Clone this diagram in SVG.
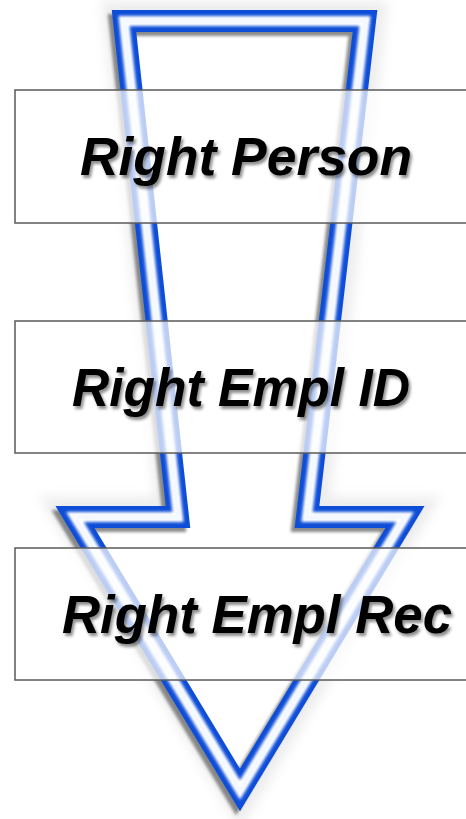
<svg xmlns="http://www.w3.org/2000/svg" width="466" height="819" viewBox="0 0 466 819">
  <style>
    .box { fill: #ffffff; fill-opacity: 0.72; stroke: #5a5a5a; stroke-width: 1.5; }
    .lbl { font-family: "Liberation Sans", Arial, sans-serif; font-weight: bold; font-style: italic; font-size: 54px; fill: #000000; filter: url(#tshadow); }
    .band { fill: none; stroke-linejoin: miter; stroke-miterlimit: 10; }
  </style>
  <defs>
    <path id="arrowPath" d="M124,21 L365,21 L307,517 L405,517 L240,790 L75,517 L178,517 Z"/>
    <filter id="tshadow" x="-10%" y="-30%" width="120%" height="160%">
      <feGaussianBlur in="SourceAlpha" stdDeviation="1.6"/>
      <feOffset dx="2" dy="3" result="b"/>
      <feFlood flood-color="#000" flood-opacity="0.45"/>
      <feComposite in2="b" operator="in"/>
      <feMerge><feMergeNode/><feMergeNode in="SourceGraphic"/></feMerge>
    </filter>
    <filter id="blur1" x="-10%" y="-10%" width="120%" height="120%"><feGaussianBlur stdDeviation="0.7"/></filter>
    <filter id="blur2" x="-10%" y="-10%" width="120%" height="120%"><feGaussianBlur stdDeviation="1.8"/></filter>
    <filter id="blur6" x="-20%" y="-20%" width="140%" height="140%"><feGaussianBlur stdDeviation="6"/></filter>
  </defs>
  <rect width="466" height="819" fill="#ffffff"/>
  <g id="arrow">
    <use href="#arrowPath" class="band" stroke="#9a9a9a" stroke-width="40" opacity="0.18" filter="url(#blur6)"/>
    <use href="#arrowPath" fill="#ffffff"/>
    <use href="#arrowPath" class="band" stroke="#6e6e6e" stroke-width="22" transform="translate(-4,4)" filter="url(#blur2)" opacity="0.8"/>
    <use href="#arrowPath" class="band" stroke="#0b4ed8" stroke-width="22" filter="url(#blur1)"/>
    <use href="#arrowPath" class="band" stroke="#ffffff" stroke-width="10" filter="url(#blur2)"/>
    <use href="#arrowPath" class="band" stroke="#f4f8ff" stroke-width="4" filter="url(#blur1)"/>
  </g>
  <g id="node-right-person">
    <rect class="box" x="15" y="90" width="460" height="133"/>
    <text class="lbl" x="80" y="175" textLength="332" lengthAdjust="spacingAndGlyphs">Right Person</text>
  </g>
  <g id="node-right-empl-id">
    <rect class="box" x="15" y="321" width="460" height="132"/>
    <text class="lbl" x="72" y="406" textLength="338" lengthAdjust="spacingAndGlyphs">Right Empl ID</text>
  </g>
  <g id="node-right-empl-rec">
    <rect class="box" x="15" y="548" width="460" height="132"/>
    <text class="lbl" x="62" y="633" textLength="390" lengthAdjust="spacingAndGlyphs">Right Empl Rec</text>
  </g>
  <g id="connectors"/>
</svg>
